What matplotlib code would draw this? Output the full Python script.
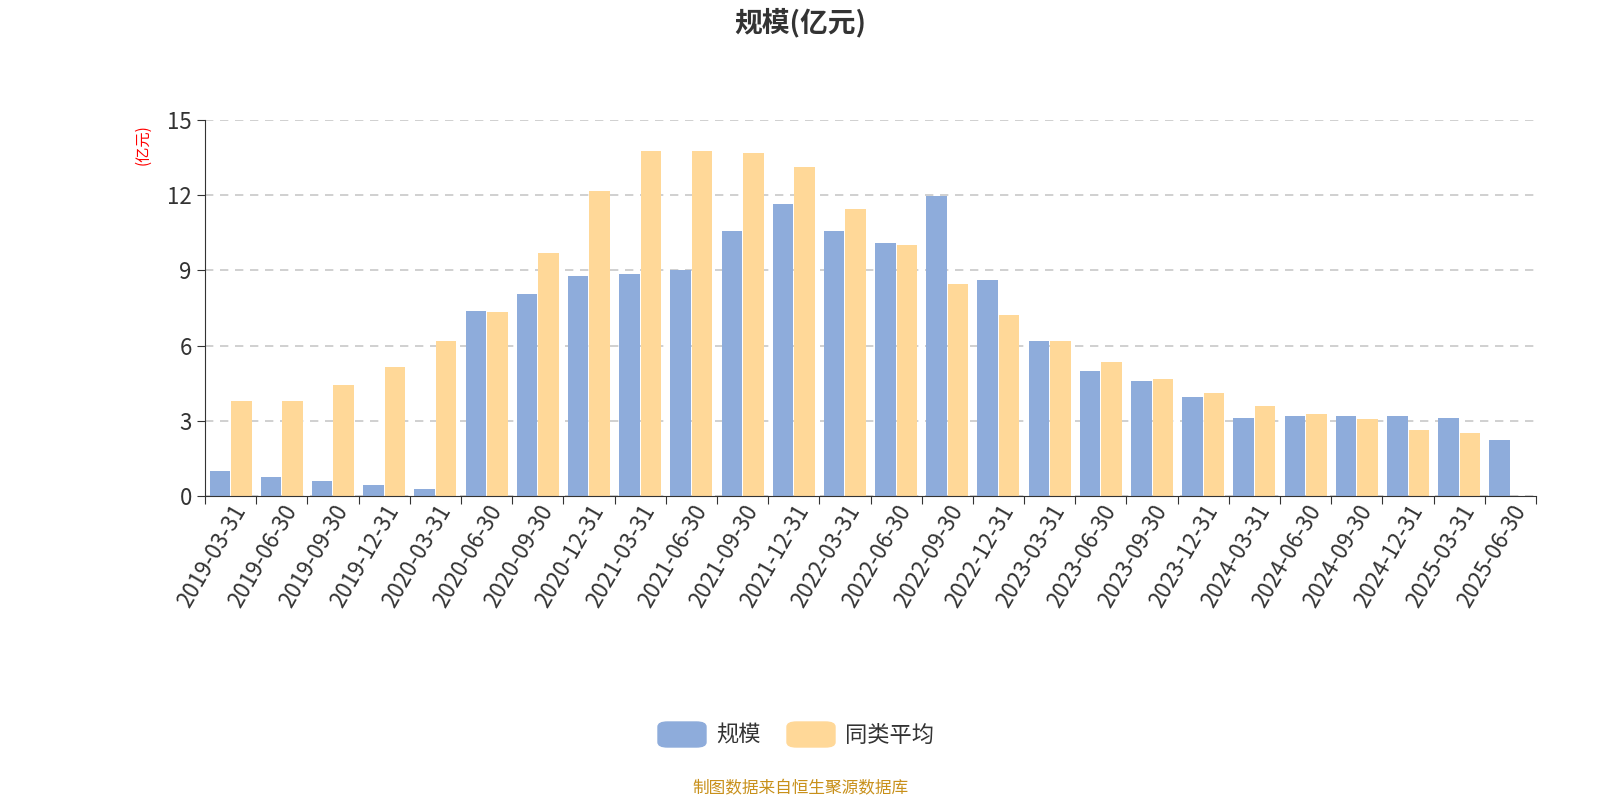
import matplotlib.pyplot as plt
from matplotlib.patches import FancyBboxPatch
import numpy as np

plt.rcParams["font.family"] = ["Noto Sans CJK SC", "DejaVu Sans"]

dates = ["2019-03-31", "2019-06-30", "2019-09-30", "2019-12-31", "2020-03-31",
         "2020-06-30", "2020-09-30", "2020-12-31", "2021-03-31", "2021-06-30",
         "2021-09-30", "2021-12-31", "2022-03-31", "2022-06-30", "2022-09-30",
         "2022-12-31", "2023-03-31", "2023-06-30", "2023-09-30", "2023-12-31",
         "2024-03-31", "2024-06-30", "2024-09-30", "2024-12-31", "2025-03-31",
         "2025-06-30"]
scale = [0.98, 0.75, 0.6, 0.45, 0.28, 7.38, 8.07, 8.76, 8.85, 9.0,
         10.56, 11.66, 10.56, 10.1, 11.98, 8.6, 6.2, 4.97, 4.6, 3.95,
         3.1, 3.18, 3.18, 3.2, 3.1, 2.24]
peer_avg = [3.8, 3.8, 4.44, 5.14, 6.2, 7.34, 9.7, 12.15, 13.78, 13.78,
            13.7, 13.13, 11.46, 10.03, 8.44, 7.22, 6.2, 5.34, 4.65, 4.12,
            3.59, 3.26, 3.06, 2.65, 2.53]

blue = "#8eacdb"
yellow = "#ffd898"

fig = plt.figure(figsize=(16, 8), dpi=100)
ax = fig.add_axes([205 / 1600, 1 - 496 / 800, 1331 / 1600, 376 / 800])

x = np.arange(len(dates))
w = 0.4
ax.bar(x - w / 2 - 0.01, scale, w, color=blue, zorder=2)
ax.bar(x[:len(peer_avg)] + w / 2 + 0.01, peer_avg, w, color=yellow, zorder=2)

ax.set_xlim(-0.5, len(dates) - 0.5)
ax.set_ylim(0, 15)
ax.set_yticks([0, 3, 6, 9, 12, 15])
ax.yaxis.grid(True, linestyle=(0, (5, 4)), color="#c8c8c8", linewidth=1.2, zorder=0)
ax.set_xticks(np.arange(len(dates) + 1) - 0.5, minor=False, labels=[""] * (len(dates) + 1))
ax.set_xticks(x, minor=True, labels=dates)
ax.tick_params(axis="x", which="major", length=6, color="#333333")
ax.tick_params(axis="x", which="minor", length=0, labelsize=16, labelrotation=60, labelcolor="#333333")
for lbl in ax.get_xticklabels(minor=True):
    lbl.set_ha("right")
    lbl.set_rotation_mode("anchor")
ax.tick_params(axis="y", labelsize=16, labelcolor="#333333", length=6, color="#333333")
for s in ["top", "right"]:
    ax.spines[s].set_visible(False)
ax.spines["left"].set_color("#333333")
ax.spines["bottom"].set_color("#333333")

fig.text(143 / 1600, 1 - 145 / 800, "(亿元)", color="red", fontsize=11, rotation=90, ha="center", va="center")
fig.text(0.5, 1 - 23 / 800, "规模(亿元)", ha="center", va="center", fontsize=20, fontweight="bold", color="#333333")

# legend
for px, col, lab in [(658, blue, "规模"), (787, yellow, "同类平均")]:
    fig.patches.append(FancyBboxPatch((px / 1600, 1 - 747 / 800), 48 / 1600, 25 / 800,
                                      boxstyle="round,pad=0,rounding_size=0.006",
                                      transform=fig.transFigure, color=col))
    fig.text((px + 58) / 1600, 1 - 735 / 800, lab, fontsize=16, va="center", color="#333333")

fig.text(0.5, 1 - 789 / 800, "制图数据来自恒生聚源数据库", ha="center", va="center", fontsize=12, color="#c8901a")

fig.savefig("out.png")
